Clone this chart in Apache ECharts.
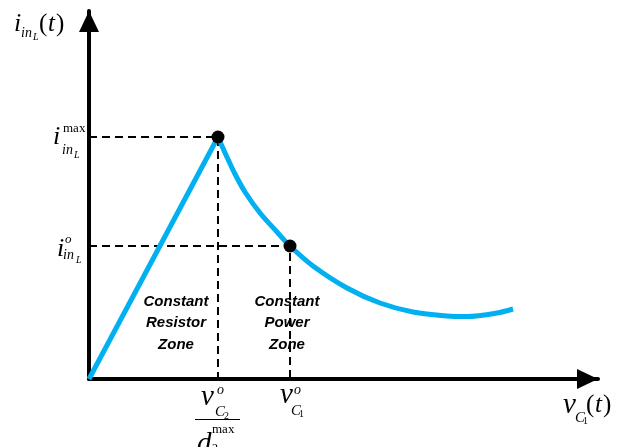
<!DOCTYPE html>
<html>
<head>
<meta charset="utf-8">
<script src="https://cdn.jsdelivr.net/npm/echarts@6/dist/echarts.min.js"></script>
<style>
html,body{margin:0;padding:0;background:#fff;}
#chart{width:625px;height:447px;}
</style>
</head>
<body>
<div id="chart"></div>
<script>
// Constant resistor zone: straight rise from origin to the peak
const resistorZone = [[0, 0], [2.534, 6.576]];
// Constant power zone: decaying curve from the peak
const powerZone = [
  [2.534, 6.576], [2.692, 6.087], [2.868, 5.571], [3.065, 5.082], [3.360, 4.511],
  [3.694, 3.995], [3.949, 3.614], [4.401, 3.071], [5.069, 2.473], [5.717, 2.065],
  [6.365, 1.821], [7.033, 1.712], [7.426, 1.698], [8.016, 1.793], [8.330, 1.902]
];
// Marked points: peak (i_max) and operating point (i_o)
const markedPoints = [[2.534, 6.576], [3.949, 3.614]];
// Dashed guide lines to the axes
const guideMax = [[0, 6.576], [2.534, 6.576], [2.534, 0]];
const guideOp = [[0, 3.614], [3.949, 3.614], [3.949, 0]];
// Zone captions
const zoneLeft = ['Constant', 'Resistor', 'Zone'];
const zoneRight = ['Constant', 'Power', 'Zone'];

const chart = echarts.init(document.getElementById('chart'), null, {renderer: 'canvas'});

const SERIF = '"Liberation Serif", "DejaVu Serif", serif';
function t(x, y, text, size, italic) {
  return {
    type: 'text', x: x, y: y, z: 100,
    style: {
      text: text, fill: '#000',
      font: (italic ? 'italic ' : '') + size + 'px ' + SERIF,
      align: 'left', verticalAlign: 'middle'
    }
  };
}
function zone(cx, lines) {
  const ys = [302, 323, 345];
  return lines.map((s, i) => ({
    type: 'text', x: cx, y: ys[i], z: 100,
    style: {
      text: s, fill: '#000',
      font: 'italic bold 15px "Liberation Sans", Arial, sans-serif',
      align: 'center', verticalAlign: 'middle'
    }
  }));
}

const axisCommon = {
  type: 'value', min: 0, max: 10,
  splitLine: {show: false}, axisTick: {show: false}, axisLabel: {show: false},
  axisLine: {show: true, symbol: ['none', 'triangle'], symbolSize: [20, 21],
    symbolOffset: [0, -10.5],
    lineStyle: {color: '#000', width: 4}}
};

const option = {
  animation: false,
  backgroundColor: '#fff',
  grid: {left: 89, right: 27, top: 11, bottom: 68, containLabel: false},
  xAxis: Object.assign({}, axisCommon),
  yAxis: Object.assign({}, axisCommon),
  series: [
    {type: 'line', data: guideMax, symbol: 'none', z: 2,
      lineStyle: {color: '#000', width: 2, type: [8, 5]}},
    {type: 'line', data: guideOp, symbol: 'none', z: 2,
      lineStyle: {color: '#000', width: 2, type: [8, 5]}},
    {type: 'line', data: resistorZone, symbol: 'none', z: 3,
      lineStyle: {color: '#00b0f0', width: 5}},
    {type: 'line', data: powerZone, symbol: 'none', smooth: 0.3, z: 3,
      lineStyle: {color: '#00b0f0', width: 5}},
    {type: 'scatter', data: markedPoints, symbol: 'circle', symbolSize: 13, z: 4,
      itemStyle: {color: '#000', opacity: 1}}
  ],
  graphic: [
    // y-axis title i_{in_L}(t)
    t(14, 24, 'i', 26, true),
    t(21, 33, 'in', 14, true),
    t(33, 37, 'L', 10, true),
    t(39, 24, '(', 25, false),
    t(48, 24, 't', 25, true),
    t(56, 24, ')', 25, false),
    // i^max_{in_L}
    t(53, 137, 'i', 26, true),
    t(63, 129, 'max', 13, false),
    t(62, 150, 'in', 14, true),
    t(74, 155, 'L', 10, true),
    // i^o_{in_L}
    t(57, 249, 'i', 26, true),
    t(65, 240, 'o', 13, true),
    t(63, 255, 'in', 14, true),
    t(76, 260, 'L', 10, true),
    // v^o_{C2} / d^max_2
    t(201, 397, 'v', 29, true),
    t(217, 390, 'o', 14, true),
    t(215, 412, 'C', 15, true),
    t(224, 416, '2', 10, false),
    {type: 'line', z: 100, shape: {x1: 195, y1: 419.5, x2: 240, y2: 419.5}, style: {stroke: '#000', lineWidth: 1}},
    t(197, 444, 'd', 29, true),
    t(212, 430, 'max', 13, false),
    t(212, 449, '2', 12, false),
    // v^o_{C1}
    t(280, 395, 'v', 29, true),
    t(294, 390, 'o', 14, true),
    t(291, 411, 'C', 15, true),
    t(299, 414, '1', 10, false),
    // v_{C1}(t)
    t(563, 405, 'v', 29, true),
    t(575, 418, 'C', 15, true),
    t(583, 421, '1', 10, false),
    t(586, 405, '(', 25, false),
    t(595, 405, 't', 25, true),
    t(603, 405, ')', 25, false)
  ].concat(zone(176, zoneLeft)).concat(zone(287, zoneRight))
};
chart.setOption(option);
</script>
</body>
</html>
